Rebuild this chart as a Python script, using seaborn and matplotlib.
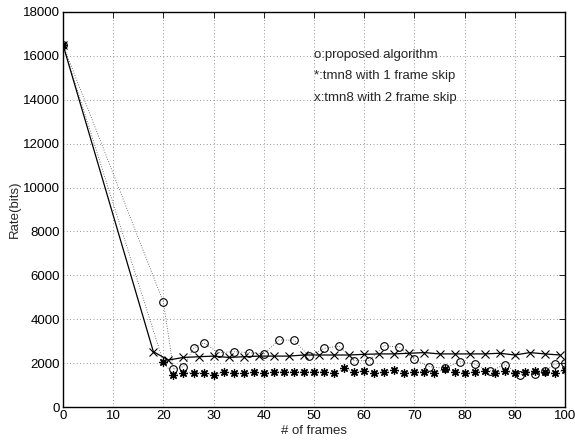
import matplotlib
matplotlib.use("Agg")
import matplotlib.pyplot as plt
import seaborn as sns
import pandas as pd

# proposed algorithm (o)
prop_x = [0, 20, 22, 24, 26, 28, 31, 34, 37, 40, 43, 46, 49, 52, 55, 58, 61, 64, 67, 70,
          73, 76, 79, 82, 85, 88, 91, 94, 96, 98, 100]
prop_y = [16500, 4770, 1720, 1840, 2670, 2930, 2480, 2520, 2480, 2420, 3050, 3050, 2320,
          2670, 2780, 2110, 2110, 2800, 2720, 2170, 1840, 1760, 2070, 1960, 1630, 1930,
          1480, 1500, 1630, 1960, 2000]

# tmn8 with 1 frame skip (*)
skip1_x = [0] + list(range(20, 101, 2))
skip1_y = [16500, 2040, 1460, 1560, 1560, 1560, 1460, 1610, 1560, 1530, 1580, 1530, 1610,
           1610, 1610, 1610, 1610, 1610, 1530, 1760, 1610, 1660, 1560, 1610, 1680, 1560,
           1610, 1610, 1560, 1720, 1610, 1560, 1610, 1640, 1560, 1640, 1530, 1580, 1660,
           1610, 1560, 1680]

# tmn8 with 2 frame skip (x)
skip2_x = [0] + list(range(18, 100, 3))
skip2_y = [16500, 2520, 2140, 2260, 2290, 2320, 2260, 2290, 2320, 2320, 2320, 2370, 2370,
           2370, 2370, 2400, 2420, 2420, 2450, 2480, 2420, 2420, 2420, 2420, 2450, 2370,
           2480, 2420, 2370]

labels = ["o:proposed algorithm", "*:tmn8 with 1 frame skip", "x:tmn8 with 2 frame skip"]
xticks = list(range(0, 101, 10))
yticks = list(range(0, 18001, 2000))

sns.set_style("white")
plt.rcParams['font.family'] = ['Liberation Sans', 'DejaVu Sans']

fig = plt.figure(figsize=(5.75, 4.44), dpi=100)
ax = fig.add_axes([0.1096, 0.0833, 0.8730, 0.8897])

d1 = pd.DataFrame({"x": prop_x, "y": prop_y})
d2 = pd.DataFrame({"x": skip1_x, "y": skip1_y})
d3 = pd.DataFrame({"x": skip2_x, "y": skip2_y})

sns.lineplot(data=d1, x="x", y="y", ax=ax, sort=False, estimator=None, color="0.3",
             linestyle=(0, (1, 2)), linewidth=0.6, marker="o", markersize=5.5,
             markerfacecolor="none", markeredgecolor="black", markeredgewidth=0.8)
sns.lineplot(data=d2, x="x", y="y", ax=ax, sort=False, estimator=None, color="0.3",
             linestyle=(0, (1, 2)), linewidth=0.6, marker=(8, 2, 0), markersize=6.0,
             markerfacecolor="black", markeredgecolor="black", markeredgewidth=0.9)
sns.lineplot(data=d3, x="x", y="y", ax=ax, sort=False, estimator=None, color="black",
             linestyle="-", linewidth=0.9, marker="x", markersize=6.0,
             markeredgecolor="black", markeredgewidth=0.8)

ax.set_xlim(0, 100)
ax.set_ylim(0, 18000)
ax.set_xticks(xticks)
ax.set_yticks(yticks)
ax.set_xticklabels([str(t) for t in xticks], fontsize=9.5)
ax.set_yticklabels([str(t) for t in yticks], fontsize=9.5)
ax.grid(True, color="0.45", linestyle=(0, (1, 3)), linewidth=0.6)
ax.tick_params(direction="in", length=4, width=0.6, top=True, right=True, pad=2,
               colors="black")
for s in ax.spines.values():
    s.set_visible(True)
    s.set_color("black")
    s.set_linewidth(1.0)

ax.set_xlabel("# of frames", fontsize=9.5, labelpad=2)
ax.set_ylabel("Rate(bits)", fontsize=9.5)
ax.yaxis.set_label_coords(-0.084, 0.5)

ty = [16050, 15080, 14100]
for t, yy in zip(labels, ty):
    ax.text(50, yy, t, fontsize=9.5, va="center", ha="left")

fig.savefig("out.png", dpi=100)
